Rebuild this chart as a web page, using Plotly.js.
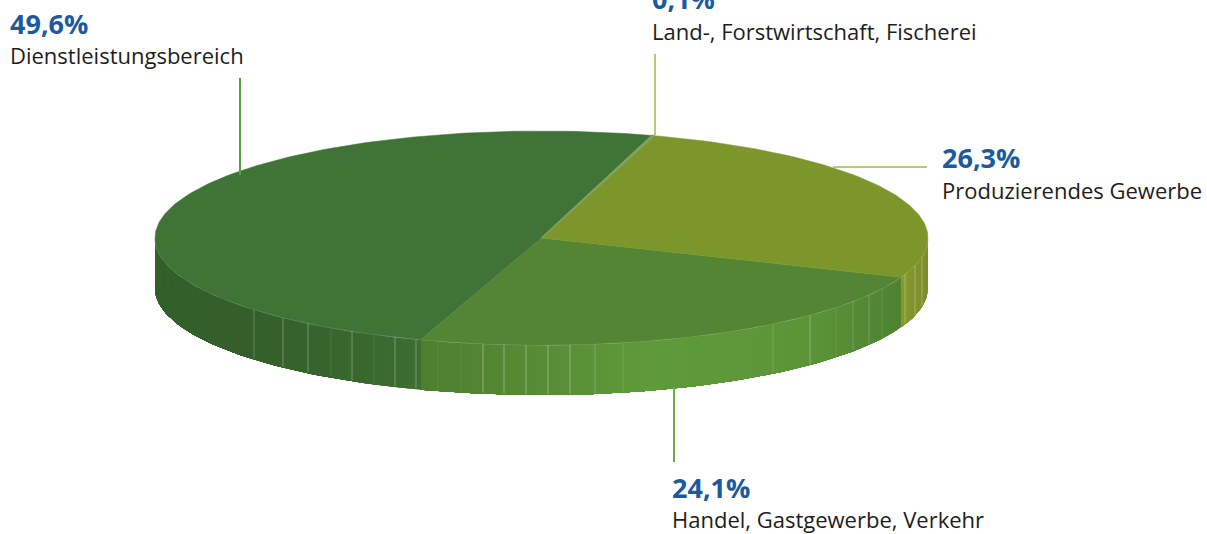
<!DOCTYPE html>
<html><head><meta charset="utf-8">
<script src="https://cdn.plot.ly/plotly-3.0.1.min.js"></script>
<style>html,body{margin:0;padding:0;background:#fff;overflow:hidden}</style>
</head><body><div id="chart" style="width:1207px;height:534px"></div>
<script>
// --- data ---
const categories = ['Land-, Forstwirtschaft, Fischerei','Produzierendes Gewerbe','Handel, Gastgewerbe, Verkehr','Dienstleistungsbereich'];
const shares = [0.1, 26.3, 24.1, 49.6];
const shareLabels = ['0,1%','26,3%','24,1%','49,6%'];

// --- styles and geometry ---
const topColors = ['#82a05e','#7d962c','#548535','#3f7436'];
const sideStops = [
  [[0,'#82a05e'],[2000,'#82a05e']],
  [[900,'#88992d'],[928,'#7c8e2b']],
  [[421,'#4e7e2f'],[540,'#578c36'],[650,'#5f9a3a'],[800,'#5c9538'],[900,'#4e8331']],
  [[155,'#33602a'],[254,'#345f2a'],[416,'#3c6d31']]
];
const leaders = [
  {x:[655,655],y:[54,135],c:'#b4cc78'},
  {x:[833,927],y:[167,167],c:'#b5cc6a'},
  {x:[674,674],y:[387,462],c:'#6cae44'},
  {x:[240,240],y:[78,175],c:'#5a9e3f'}
];
// pct label centre; yShift used for text whose centre sits on or above the top edge
const labelPos = [[652,0,2],[942,157,0],[672,487,0],[10,23,0]];
const labelGap = [33,33,32,32];
const seams = [254,283,308,331,352,374,395,416,438,461,483,504,526,548,570,595,623,773,810,836,853,869,882,905,915,922];
const seamAlpha = [.25,.3,.3,.1,.3,.1,.3,.3,.08,.08,.35,.35,.35,.35,.35,.2,.15,.15,.3,.1,.2,.2,.1,.3,.3,.3];
const cx=541.5, cy=238, rx=386.5, ry=107, depth=50, startDeg=16.6, step=1.5;

const pt = (deg,dy=0)=>[cx+rx*Math.sin(deg*Math.PI/180), cy-ry*Math.cos(deg*Math.PI/180)+dy];
const hex = s=>[1,3,5].map(i=>parseInt(s.substr(i,2),16));
function colorAt(stops,x){
  if(x<=stops[0][0]) return stops[0][1];
  for(let i=1;i<stops.length;i++){
    if(x<=stops[i][0]){
      const t=(x-stops[i-1][0])/(stops[i][0]-stops[i-1][0]);
      const a=hex(stops[i-1][1]),b=hex(stops[i][1]);
      return 'rgb('+a.map((v,k)=>Math.round(v+(b[k]-v)*t)).join(',')+')';
    }
  }
  return stops[stops.length-1][1];
}
const total = shares.reduce((a,b)=>a+b,0);
let ang = startDeg;
const arcs = shares.map(v=>{const a0=ang; ang+=v/total*360; return [a0,ang];});

const traces=[];
// side wall, visible for 90..270 degrees: each strip runs on to the slice end, later strips paint over
arcs.forEach(([a0,a1],i)=>{
  const lo=Math.max(a0,90), hi=Math.min(a1,270);
  if(hi<=lo) return;
  const n=Math.max(1,Math.ceil((hi-lo)/step));
  for(let k=0;k<n;k++){
    const s=lo+(hi-lo)*k/n;
    const m=Math.max(2,Math.ceil((hi-s)/1.5));
    const xs=[],ys=[];
    for(let j=0;j<=m;j++){const p=pt(s+(hi-s)*j/m);xs.push(p[0]);ys.push(p[1]);}
    for(let j=m;j>=0;j--){const p=pt(s+(hi-s)*j/m,depth);xs.push(p[0]);ys.push(p[1]);}
    xs.push(xs[0]);ys.push(ys[0]);
    const c=colorAt(sideStops[i],pt(s+(hi-lo)/n/2)[0]);
    traces.push({type:'scatter',mode:'lines',x:xs,y:ys,fill:'toself',fillcolor:c,
      line:{color:c,width:0},hoverinfo:'skip',showlegend:false});
  }
});
// pale seams on the wall
seams.forEach((x,i)=>{
  const yTop=cy+ry*Math.sqrt(1-((x-cx)/rx)**2);
  traces.push({type:'scatter',mode:'lines',x:[x,x],y:[yTop,yTop+depth-1],
    line:{color:'rgba(255,255,255,'+seamAlpha[i]+')',width:1},hoverinfo:'skip',showlegend:false});
});
// pale line along the front rim
(function(){
  const xs=[],ys=[];
  for(let d=90;d<=270;d+=1){const p=pt(d);xs.push(p[0]);ys.push(p[1]);}
  traces.push({type:'scatter',mode:'lines',x:xs,y:ys,
    line:{color:'rgba(255,255,255,0.45)',width:1},hoverinfo:'skip',showlegend:false});
})();
// top face slices, largest first so the thin slice stays on top
[3,2,1,0].forEach(i=>{
  const [a0,a1]=arcs[i];
  const xs=[cx],ys=[cy];
  const n=Math.max(2,Math.ceil((a1-a0)/1));
  for(let k=0;k<=n;k++){const p=pt(a0+(a1-a0)*k/n);xs.push(p[0]);ys.push(p[1]);}
  xs.push(cx);ys.push(cy);
  traces.push({type:'scatter',mode:'lines',x:xs,y:ys,fill:'toself',fillcolor:topColors[i],
    line:{color:topColors[i],width:i===0?1.5:0.5},name:categories[i],
    text:shareLabels[i],hoverinfo:'name+text',showlegend:false});
});
// leader lines
leaders.forEach(l=>traces.push({type:'scatter',mode:'lines',x:l.x,y:l.y,
  line:{color:l.c,width:2},hoverinfo:'skip',showlegend:false}));

const fontFam='"Open Sans", "Noto Sans", sans-serif';
const annotations=[];
categories.forEach((c,i)=>{
  const [x,y,ys]=labelPos[i];
  annotations.push({x,y,xref:'x',yref:'y',yshift:ys,text:'<b>'+shareLabels[i]+'</b>',showarrow:false,
    xanchor:'left',yanchor:'middle',borderpad:0,borderwidth:0,
    font:{family:fontFam,size:27,color:'#1c5aa0'}});
  annotations.push({x,y:y+labelGap[i]-ys,xref:'x',yref:'y',text:c,showarrow:false,
    xanchor:'left',yanchor:'middle',borderpad:0,borderwidth:0,
    font:{family:fontFam,size:22,color:'#1d1d1b'}});
});

Plotly.newPlot('chart',traces,{
  width:1207,height:534,autosize:false,
  margin:{l:0,r:0,t:0,b:0,pad:0},
  paper_bgcolor:'#fff',plot_bgcolor:'#fff',showlegend:false,
  xaxis:{range:[0,1207],visible:false,fixedrange:true},
  yaxis:{range:[534,0],visible:false,fixedrange:true},
  annotations
},{displayModeBar:false,staticPlot:true});
</script></body></html>
